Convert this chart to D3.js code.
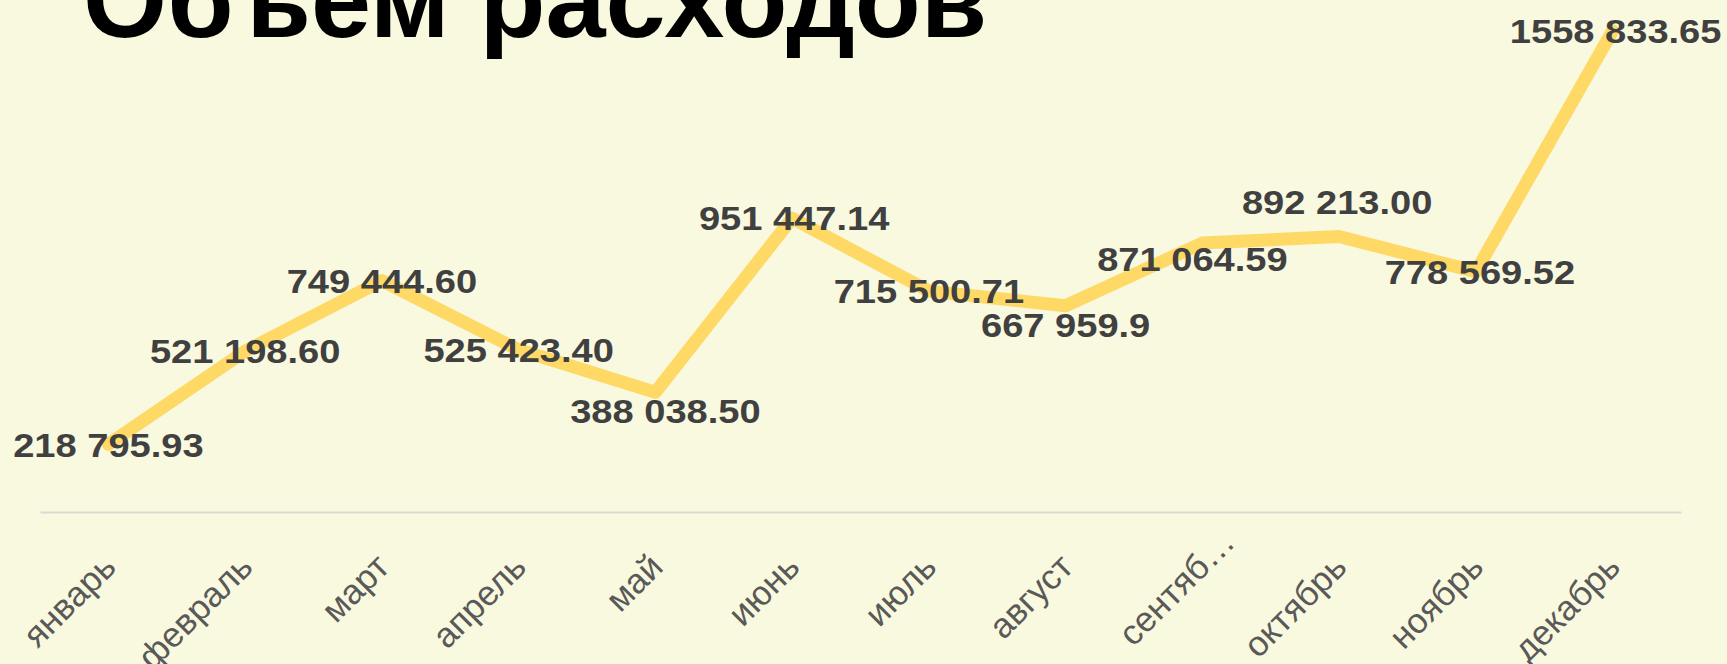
<!DOCTYPE html>
<html lang="ru">
  <head>
    <meta charset="UTF-8">
    <title>Объем расходов</title>
    <style>
    * {
      box-sizing: border-box;
      margin: 0;
      padding: 0;
    }

    body {
      background: #f9f9df;
      overflow: hidden;
    }

    svg {
      display: block;
      font-family: "Liberation Sans", Arial, sans-serif;
    }

    .title {
      font-size: 108px;
      font-weight: bold;
      fill: #000;
    }

    .axis path {
      stroke: #d9d9d9;
      stroke-width: 2px;
    }

    .axis text {
      font-size: 35px;
      fill: #595959;
      font-family: "Liberation Sans", Arial, sans-serif;
    }

    .line {
      fill: none;
      stroke: #ffd966;
      stroke-width: 13px;
      stroke-linejoin: round;
      stroke-linecap: round;
    }

    .value {
      font-size: 34px;
      font-weight: bold;
      fill: #404040;
    }
    </style>
  </head>
  <body>
    <svg></svg>
    <script src="https://d3js.org/d3.v7.min.js"></script>
    <script>
      const months = ["январь", "февраль", "март", "апрель", "май", "июнь",
        "июль", "август", "сентяб…", "октябрь", "ноябрь", "декабрь"];
      const expenses = [218795.93, 521198.60, 749444.60, 525423.40, 388038.50, 951447.14,
        715500.71, 667959.9, 871064.59, 892213.00, 778569.52, 1558833.65];
      const valueLabels = ["218 795.93", "521 198.60", "749 444.60", "525 423.40", "388 038.50", "951 447.14",
        "715 500.71", "667 959.9", "871 064.59", "892 213.00", "778 569.52", "1558 833.65"];
      const yMax = 1600000;

      // hand-placed data labels in the original (px nudges from the point)
      const labelNudge = [[0, 0], [0, 0], [0, 0], [0, 0], [10, 19], [2, 0],
        [0, 0], [0, 19], [-10, 16], [-2, -35], [4, 0], [3, 0]];

      const width = 1727;
      const height = 664;
      const plot = { left: 40, right: 1681, top: 18, bottom: 512 };

      const svg = d3.select("svg")
        .attr("width", width)
        .attr("height", height);

      const x = d3.scalePoint()
        .domain(months)
        .range([plot.left, plot.right])
        .padding(0.5);

      const y = d3.scaleLinear()
        .domain([0, yMax])
        .range([plot.bottom, plot.top]);

      svg.append("text")
        .attr("class", "title")
        .attr("x", 83)
        .attr("y", 37)
        .text("Объем расходов");

      const axis = svg.append("g")
        .attr("class", "axis")
        .attr("transform", `translate(0,${plot.bottom})`)
        .call(d3.axisBottom(x).tickSize(0).tickSizeOuter(0));

      axis.selectAll(".tick text")
        .attr("text-anchor", "end")
        .attr("dy", null)
        .attr("y", null)
        .attr("transform", "translate(9,57) rotate(-45)")
        .each(function(d) {
          // truncated label is anchored before its ellipsis
          if (d.endsWith("…")) {
            const w = this.getSubStringLength(d.length - 1, 1);
            d3.select(this).attr("dx", w);
          }
        });

      const line = d3.line()
        .x((d, i) => x(months[i]))
        .y(d => y(d));

      svg.append("path")
        .datum(expenses)
        .attr("class", "line")
        .attr("d", line);

      svg.append("g")
        .selectAll("text")
        .data(expenses)
        .enter().append("text")
        .attr("class", "value")
        .attr("text-anchor", "middle")
        .attr("dy", "0.36em")
        .attr("transform", (d, i) =>
          `translate(${x(months[i]) + labelNudge[i][0]},${y(d) + labelNudge[i][1]}) scale(1.12,1)`)
        .text((d, i) => valueLabels[i]);
    </script>
  </body>
</html>
